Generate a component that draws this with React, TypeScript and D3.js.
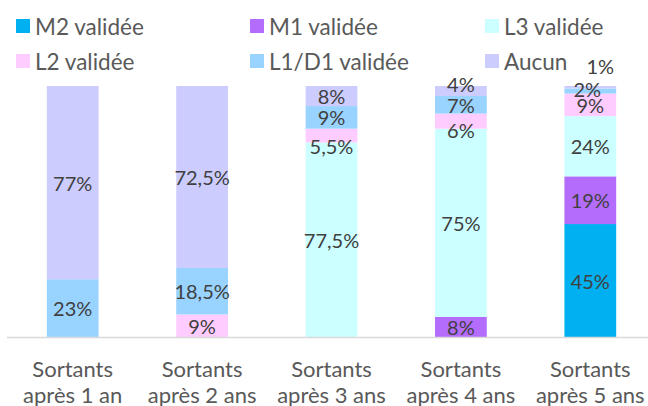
import React, { useEffect, useRef } from 'react';
import * as d3 from 'd3';

const categories = ['Sortants\napr\u00e8s 1 an', 'Sortants\napr\u00e8s 2 ans', 'Sortants\napr\u00e8s 3 ans', 'Sortants\napr\u00e8s 4 ans', 'Sortants\napr\u00e8s 5 ans'];
const seriesNames = ['M2 valid\u00e9e', 'M1 valid\u00e9e', 'L3 valid\u00e9e', 'L2 valid\u00e9e', 'L1/D1 valid\u00e9e', 'Aucun'];
const colors = ['#00B0F0', '#B46CFC', '#CCFFFF', '#FFCCFF', '#99D3FF', '#CCCCFF'];

// one array per series, one value per category (%)
const m2 = [0, 0, 0, 0, 45];
const m1 = [0, 0, 0, 8, 19];
const l3 = [0, 0, 77.5, 75, 24];
const l2 = [0, 9, 5.5, 6, 9];
const l1 = [23, 18.5, 9, 7, 2];
const aucun = [77, 72.5, 8, 4, 1];

// manual nudges of a few labels that would overlap (key: series-category) -> [dx, dy]
const labelNudge: Record<string, [number, number]> = {
  '3-2': [0, 10],
  '3-3': [0, 9],
  '5-3': [0, -7],
  '4-4': [-3, -2],
  '5-4': [10, -21],
};

export default function App() {
  const ref = useRef<SVGSVGElement | null>(null);

  useEffect(() => {
    const W = 648, H = 406;
    const svg = d3.select(ref.current).html('').attr('width', W).attr('height', H);
    const font = 'Lato, Carlito, Calibri, sans-serif';

    const rows = categories.map((c, i) => {
      const r: any = { cat: c };
      [m2, m1, l3, l2, l1, aucun].forEach((arr, k) => (r[seriesNames[k]] = arr[i]));
      return r;
    });
    const stacked = d3.stack<any>().keys(seriesNames)(rows);

    const x = d3.scaleBand<string>().domain(categories).range([8, 655]).paddingInner(0.6).paddingOuter(0.3);
    const y = d3.scaleLinear().domain([0, 100]).range([337, 86]);

    svg.append('g')
      .selectAll('g')
      .data(stacked)
      .join('g')
      .attr('fill', (_, k) => colors[k])
      .selectAll('rect')
      .data(d => d.filter(p => p[1] - p[0] > 0))
      .join('rect')
      .attr('x', (p: any) => x(p.data.cat)!)
      .attr('width', x.bandwidth())
      .attr('y', p => y(p[1]))
      .attr('height', p => y(p[0]) - y(p[1]));

    // axis line
    svg.append('line')
      .attr('x1', 7).attr('x2', W).attr('y1', 337.5).attr('y2', 337.5)
      .attr('stroke', '#D9D9D9').attr('stroke-width', 1.5);

    // data labels
    const fmt = (v: number) => String(v).replace('.', ',') + '%';
    stacked.forEach((s, k) => {
      s.forEach((p: any, i) => {
        const v = p[1] - p[0];
        if (v <= 0) return;
        const [dx, dy] = labelNudge[`${k}-${i}`] || [0, 0];
        const cx = x(p.data.cat)! + x.bandwidth() / 2 + dx;
        const cy = (y(p[0]) + y(p[1])) / 2 + dy;
        svg.append('text')
          .attr('x', cx).attr('y', cy)
          .attr('text-anchor', 'middle').attr('dominant-baseline', 'central')
          .attr('font-family', font).attr('font-size', 20).attr('fill', '#404040')
          .text(fmt(v));
      });
    });

    // category labels
    categories.forEach(c => {
      const t = svg.append('text')
        .attr('text-anchor', 'middle')
        .attr('font-family', font).attr('font-size', 22).attr('fill', '#595959');
      c.split('\n').forEach((ln, j) => {
        t.append('tspan')
          .attr('x', x(c)! + x.bandwidth() / 2)
          .attr('y', 377 + j * 26)
          .text(ln);
      });
    });

    // legend, 3 columns x 2 rows
    const colX = [16, 250, 485];
    const rowY = [26, 61];
    seriesNames.forEach((name, k) => {
      const lx = colX[k % 3], ly = rowY[Math.floor(k / 3)];
      svg.append('rect').attr('x', lx).attr('y', ly - 7).attr('width', 14).attr('height', 14).attr('fill', colors[k]);
      svg.append('text')
        .attr('x', lx + 19).attr('y', ly)
        .attr('dominant-baseline', 'central')
        .attr('font-family', font).attr('font-size', 22.5).attr('fill', '#595959')
        .text(name);
    });
  }, []);

  return <svg ref={ref} style={{ position: 'absolute', left: 0, top: 0, display: 'block' }} />;
}
